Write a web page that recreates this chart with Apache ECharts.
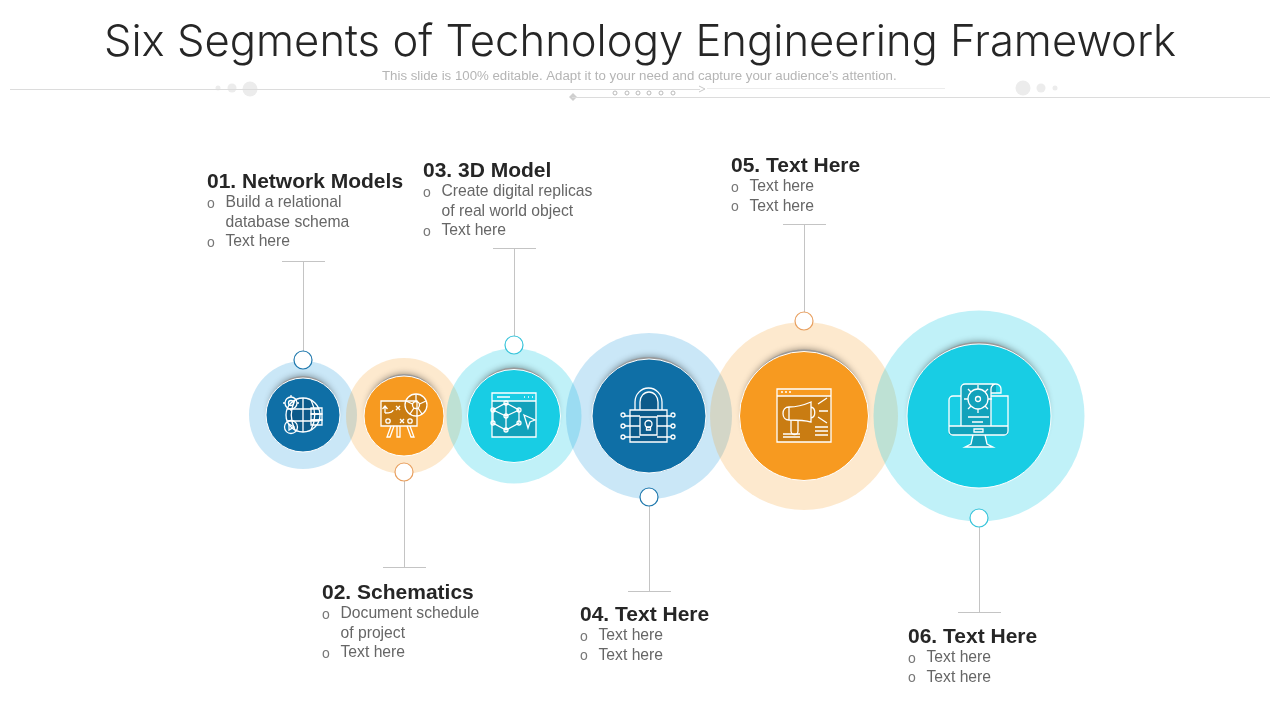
<!DOCTYPE html>
<html>
<head>
<meta charset="utf-8">
<style>html,body{margin:0;padding:0;background:#fff}#chart{width:1280px;height:720px}</style>
<script src="https://cdn.jsdelivr.net/npm/echarts@6/dist/echarts.min.js"></script>
</head>
<body>
<div id="chart"></div>
<script>
var titleText = "Six Segments of Technology Engineering Framework";
var subText = "This slide is 100% editable. Adapt it to your need and capture your audience\u2019s attention.";

// the six segments, left to right
var headings = ["01. Network Models", "02. Schematics", "03. 3D Model", "04. Text Here", "05. Text Here", "06. Text Here"];
var bulletLines = [
    [["Build a relational", "database schema"], ["Text here"]],
    [["Document schedule", "of project"], ["Text here"]],
    [["Create digital replicas", "of real world object"], ["Text here"]],
    [["Text here"], ["Text here"]],
    [["Text here"], ["Text here"]],
    [["Text here"], ["Text here"]]
];
var centerX = [303, 404, 514, 649, 804, 979];
var centerY = [415, 416, 416, 416, 416, 416];
var outerR = [54, 58, 67.5, 83, 94, 105.5];
var innerR = [37, 40, 46.5, 57, 64.5, 72];
var nodeY = [360, 472, 345, 497, 321, 518];
var stemEndY = [261, 567, 248, 591, 224, 612];
var headX = [207, 322, 423, 580, 731, 908];
var headY = [182, 593, 171, 615, 166, 637];

var innerColors = ["#0f6fa6", "#f79a20", "#18cde4", "#0f6fa6", "#f79a20", "#18cde4"];
var outerColors = ["rgba(42,158,224,.25)", "rgba(247,154,32,.22)", "rgba(24,205,228,.27)", "rgba(42,158,224,.25)", "rgba(247,154,32,.22)", "rgba(24,205,228,.27)"];
var nodeColors = ["#1f78ad", "#e8a060", "#38c4da", "#1f78ad", "#e8a060", "#38c4da"];
var darkColors = ["#0c5a8a", "#c97c12", "#12a2bb", "#0c5a8a", "#c97c12", "#12a2bb"];

function circ(x, y, r) {
    return "M" + (x - r) + " " + y + "a" + r + " " + r + " 0 1 0 " + (2 * r) + " 0a" + r + " " + r + " 0 1 0 " + (-2 * r) + " 0Z";
}
function box(x, y, w, h) {
    return "M" + x + " " + y + "h" + w + "v" + h + "h" + (-w) + "Z";
}

// icons are drawn around the circle centre: dark fill first, then white outline
var iconFills = [
    [circ(0, 0, 16)],
    [box(-23, -15, 36, 25), circ(12, -11, 11)],
    ["M-22 -15H22V21H-22Z"],
    ["M-19 -6H18V26H-19Z M-9 -6V-14a9 10 0 0 1 18 0V-6Z"],
    ["M-27 -20H27V26H-27Z"],
    ["M-18 -28a4 4 0 0 1 4 -4H17V-23H12V10H-18Z M-30 10H29V19H-30Z M-6 19H6L8 28L14 31H-14L-8 28Z"]
];
var iconLines = [
    [
        circ(0, 0, 17), "M-8 -15C-13 -5 -13 5 -8 15M8 -15C13 -5 13 5 8 15M0 -17V17M-16 -6H16M-16 6H16",
        circ(-12, -12, 6), circ(-12, -12, 2.5), "M-12 -20V-18M-12 -6V-4M-20 -12H-18M-6 -12H-4",
        circ(-12, 12, 6.5), "M-14 9L-9 12L-14 15Z",
        box(8, -7, 11, 6), box(8, -1, 11, 6), box(8, 5, 11, 5)
    ],
    [
        box(-23, -15, 36, 25), circ(12, -11, 11), circ(12, -11, 3.5), "M12 -22V-14.5M2 -15L8.5 -12M22 -15L15.5 -12M6 -2L10 -8M18 -2L14 -8",
        "M-19 -3C-13 -3 -11 -4 -11 -6M-19 -3V-9M-21.5 -7L-19 -10L-16.5 -7",
        "M-8 -10L-4 -6M-4 -10L-8 -6M-4 3L0 7M0 3L-4 7",
        circ(-16, 5, 2.2), circ(6, 5, 2.2),
        "M-13 10L-17 21H-14L-10 10M-7 10V21H-4V10M3 10L7 21H10L6 10"
    ],
    [
        box(-22, -23, 44, 44), "M-22 -15H22M-17 -19H-4M10 -19H11M14 -19H15M18 -19H19",
        "M-8 -13L5 -6V7L-8 14L-21 7V-6Z M-8 -13V0M-21 -6L-8 0L5 -6M-8 0V14",
        circ(-8, -13, 2), circ(5, -6, 2), circ(5, 7, 2), circ(-8, 14, 2), circ(-21, -6, 2), circ(-21, 7, 2), circ(-8, 0, 2),
        "M10 -1L21 4L16 6L14 12Z"
    ],
    [
        box(-19, -6, 37, 32), "M-14 -6V-14a13.500 14 0 0 1 27 0V-6M-9 -6V-14a9 10 0 0 1 18 0V-6",
        box(-9, 1, 17, 18), circ(-0.5, 8, 3.5), "M-2.500 11H1.500V14H-2.500Z",
        "M-19 0H-24M-19 10H-24M-19 21H-24M18 0H22M18 10H22M18 21H22M-9 10H-19M8 10H18M-19 0H-9M-19 21H-9M8 0H18M8 21H18",
        circ(-26, -1, 2), circ(-26, 10, 2), circ(-26, 21, 2), circ(24, -1, 2), circ(24, 10, 2), circ(24, 21, 2)
    ],
    [
        box(-27, -27, 54, 53), "M-27 -20H27M-23 -24H-21M-19 -24H-17M-15 -24H-13",
        "M-15 -9C-6 -9 0 -11 7 -14V6C0 4 -6 4 -15 4C-23 4 -23 -9 -15 -9Z M-15 -9V4M7 -9C12 -8 12 1 7 2",
        "M-13 4V15a3 3 0 0 0 7 0V4M14 -12L23 -18M15 -5H24M14 1L23 7",
        "M-21 18H-4M-21 21H-4M11 11H24M11 15H24M11 19H24"
    ],
    [
        "M-18 10V-28a4 4 0 0 1 4 -4H17M17 -32a5 5 0 0 1 5 5V-23H12V-27a5 5 0 0 1 5 -5ZM12 -23V10",
        "M-18 -20H-26a4 4 0 0 0 -4 4V15a4 4 0 0 0 4 4H25a4 4 0 0 0 4 -4V-20H12M-30 10H29",
        box(-5, 13, 9, 3), "M-6 19L-8 28L-14 31H14L8 28L6 19",
        circ(-1, -17, 10), circ(-1, -17, 2.5), "M-1 -31V-27M-1 -7V-3M-15 -17H-11M9 -17H13M-11 -27L-8 -24M6 -10L9 -7M9 -27L6 -24M-8 -10L-11 -7",
        "M-11 1H10M-7 6H4"
    ]
];

var segIdx = centerX.map(function (v, i) { return [v, centerY[i]]; });
var nodeData = centerX.map(function (v, i) { return [v, nodeY[i]]; });

var textEls = [];
function addText(x, y, text, font, fill) {
    textEls.push({
        type: "text", x: x, y: y, silent: true,
        style: {text: text, font: font, fill: fill, verticalAlign: "middle"}
    });
}
headings.forEach(function (h, i) {
    addText(headX[i], headY[i], h, "bold 21px 'Liberation Sans'", "#262626");
    var y = headY[i] + 21;
    bulletLines[i].forEach(function (bullet) {
        addText(headX[i], y + 1, "o", "14px 'Liberation Sans'", "#777");
        bullet.forEach(function (line) {
            addText(headX[i] + 18.500, y, line, "15.700px 'Liberation Sans'", "#666");
            y += 19.500;
        });
    });
});
addText(382, 76, subText, "13.250px 'Liberation Sans'", "#b5b5b5");

var chart = echarts.init(document.getElementById("chart"));
var option = {
    animation: false,
    backgroundColor: "#fff",
    title: {
        text: titleText, left: "center", top: 16,
        textStyle: {fontFamily: "Inter", fontWeight: 300, fontSize: 43.6, color: "#262626"}
    },
    grid: {left: 0, right: 0, top: 0, bottom: 0},
    xAxis: {type: "value", min: 0, max: 1280, show: false},
    yAxis: {type: "value", min: 0, max: 720, inverse: true, show: false},
    graphic: textEls,
    series: [
        // header rules
        {type: "line", symbol: "none", silent: true, lineStyle: {color: "#dcdcdc", width: 1}, data: [[10, 89.5], [700, 89.5]]},
        {type: "line", symbol: "none", silent: true, lineStyle: {color: "#ececec", width: 1}, data: [[707, 88.5], [945, 88.5]]},
        {type: "line", symbol: "none", silent: true, lineStyle: {color: "#dcdcdc", width: 1}, data: [[572, 97.5], [1270, 97.5]]},
        {type: "line", symbol: "none", silent: true, lineStyle: {color: "#c8c8c8", width: 1}, data: [[699, 86], [705, 89], [699, 92]]},
        {
            type: "scatter", silent: true, symbol: "circle",
            symbolSize: function (v) { return v[2]; },
            itemStyle: {color: "#ececec", opacity: 1},
            data: [[250, 89, 15], [232, 88, 9], [218, 88, 5], [1023, 88, 15], [1041, 88, 9], [1055, 88, 5]]
        },
        {type: "scatter", silent: true, symbol: "diamond", symbolSize: 8, itemStyle: {color: "#cfcfcf", opacity: 1}, data: [[573, 97]]},
        {
            type: "scatter", silent: true, symbol: "circle", symbolSize: 4,
            itemStyle: {color: "#fff", borderColor: "#aaa", borderWidth: 0.8, opacity: 1},
            data: [[615, 93], [627, 93], [638, 93], [649, 93], [661, 93], [673, 93]]
        },
        // halos
        {
            type: "scatter", silent: true, symbol: "circle", z: 2,
            symbolSize: function (v, p) { return outerR[p.dataIndex] * 2; },
            itemStyle: {opacity: 1, color: function (p) { return outerColors[p.dataIndex]; }},
            data: segIdx
        },
        // crescent of shadow above each disc
        {
            type: "scatter", silent: true, symbol: "circle", z: 3, symbolOffset: [0, -6],
            symbolSize: function (v, p) { return innerR[p.dataIndex] * 2 - 8; },
            itemStyle: {
                opacity: 1, color: "#9a9a9a",
                shadowColor: "rgba(0,0,0,.45)", shadowBlur: 7
            },
            data: segIdx
        },
        // discs
        {
            type: "scatter", silent: true, symbol: "circle", z: 3,
            symbolSize: function (v, p) { return innerR[p.dataIndex] * 2; },
            itemStyle: {
                opacity: 1,
                color: function (p) { return innerColors[p.dataIndex]; },
                borderColor: "#fff", borderWidth: 1
            },
            data: segIdx
        },
        // stems from the small nodes to the text
        {
            type: "custom", silent: true, z: 4,
            data: nodeData.map(function (n, i) { return [n[0], n[1], stemEndY[i]]; }),
            renderItem: function (params, api) {
                var a = api.coord([api.value(0), api.value(1)]);
                var b = api.coord([api.value(0), api.value(2)]);
                var st = {stroke: "#c4c4c4", lineWidth: 1};
                return {
                    type: "group",
                    children: [
                        {type: "line", shape: {x1: a[0] + 0.5, y1: a[1], x2: b[0] + 0.5, y2: b[1]}, style: st},
                        {type: "line", shape: {x1: b[0] - 21, y1: b[1] + 0.5, x2: b[0] + 22, y2: b[1] + 0.5}, style: st}
                    ]
                };
            }
        },
        // small nodes
        {
            type: "scatter", silent: true, symbol: "circle", symbolSize: 18, z: 5,
            itemStyle: {opacity: 1, color: "#fff", borderWidth: 1.2},
            data: nodeData.map(function (n, i) {
                return {value: n, itemStyle: {borderColor: nodeColors[i]}};
            })
        },
        // icons
        {
            type: "custom", silent: true, z: 6,
            data: segIdx,
            renderItem: function (params, api) {
                var i = params.dataIndex;
                var c = api.coord([api.value(0), api.value(1)]);
                var kids = [];
                iconFills[i].forEach(function (d) {
                    kids.push({type: "path", shape: {pathData: d}, style: {fill: darkColors[i], stroke: null}});
                });
                iconLines[i].forEach(function (d) {
                    kids.push({type: "path", shape: {pathData: d}, style: {fill: null, stroke: "#fff", lineWidth: 1.3}});
                });
                return {type: "group", x: c[0], y: c[1], children: kids};
            }
        }
    ]
};
chart.setOption(option);
</script>
</body>
</html>
